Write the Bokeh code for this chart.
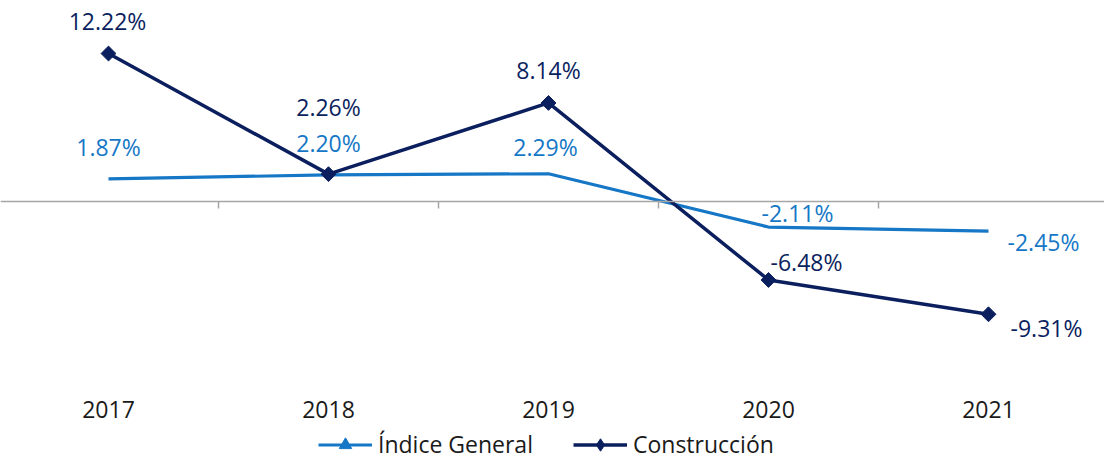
from bokeh.plotting import figure
from bokeh.models import ColumnDataSource, LinearAxis, FixedTicker, Range1d, Legend, LegendItem
from bokeh.embed import file_html
from bokeh.resources import INLINE
from bokeh.core.properties import value

years = ["2017", "2018", "2019", "2020", "2021"]
indice_general = [1.87, 2.20, 2.29, -2.11, -2.45]
construccion = [12.22, 2.26, 8.14, -6.48, -9.31]

FONT = "Open Sans"
BLUE = "#1577C6"
NAVY = "#0B1F5E"
GRAY = "#A6A6A6"
TXT = "#1a1a1a"
FS = "23px"

x = list(range(len(years)))
src = ColumnDataSource(dict(
    x=x,
    gen=indice_general,
    con=construccion,
    gen_lbl=[f"{v:.2f}%" for v in indice_general],
    con_lbl=[f"{v:.2f}%" for v in construccion],
    # label offsets (screen px) - styling only
    gdx=[0, 0, -3, 29, 55], gdy=[-32, -32, -27, -14, 11],
    cdx=[-1, 0, 0, 38, 58], cdy=[-33, -67, -33, -18, 14],
))

p = figure(width=1104, height=461, output_backend="svg", toolbar_location=None,
           x_range=Range1d(-0.4909, 4.5273), y_range=Range1d(-21.47, 16.60),
           min_border=0, outline_line_color=None,
           x_axis_location=None, y_axis_location=None)
p.grid.visible = False
p.background_fill_color = "white"
p.border_fill_color = "white"

# zero axis with boundary ticks
bounds = [i + 0.5 for i in range(len(years) - 1)]
zero_axis = LinearAxis(fixed_location=0, ticker=FixedTicker(ticks=bounds),
                       major_label_overrides={b: "" for b in bounds},
                       major_label_text_font_size="0px",
                       axis_line_color=GRAY, axis_line_width=1.5,
                       major_tick_in=0, major_tick_out=7,
                       major_tick_line_color=GRAY, major_tick_line_width=1.5,
                       minor_tick_line_color=None)
p.add_layout(zero_axis, "below")

year_axis = LinearAxis(fixed_location=-15.85, ticker=FixedTicker(ticks=x),
                       major_label_overrides={i: y for i, y in enumerate(years)},
                       axis_line_color=None, major_tick_line_color=None,
                       minor_tick_line_color=None,
                       major_label_text_font=FONT, major_label_text_font_size=FS,
                       major_label_text_color=TXT, major_label_standoff=2)
p.add_layout(year_axis, "below")

gline = p.line("x", "gen", source=src, line_color=BLUE, line_width=3.2)
gmark = p.scatter("x", "gen", source=src, marker="triangle", size=0,
                  fill_color=BLUE, line_color=BLUE)
cline = p.line("x", "con", source=src, line_color=NAVY, line_width=3.5)
cmark = p.scatter("x", "con", source=src, marker="square", angle=0.785398, size=10.5,
                  fill_color=NAVY, line_color=NAVY)
cmark_leg = p.scatter("x", "con", source=src, marker="diamond", size=0,
                      fill_color=NAVY, line_color=NAVY)

p.text("x", "gen", text="gen_lbl", source=src, x_offset="gdx", y_offset="gdy",
       text_align="center", text_baseline="middle", text_font=value(FONT),
       text_font_size=FS, text_color=BLUE)
p.text("x", "con", text="con_lbl", source=src, x_offset="cdx", y_offset="cdy",
       text_align="center", text_baseline="middle", text_font=value(FONT),
       text_font_size=FS, text_color=NAVY)

legend = Legend(items=[LegendItem(label="Índice General", renderers=[gline, gmark]),
                       LegendItem(label="Construcción", renderers=[cline, cmark_leg])],
                orientation="horizontal", location=(318, 1),
                glyph_width=54, glyph_height=31, label_standoff=6, spacing=40,
                padding=0, margin=0, background_fill_alpha=0, border_line_color=None,
                label_text_font=FONT, label_text_font_size=FS, label_text_color=TXT)
p.add_layout(legend)

open("out.html", "w").write(file_html(p, INLINE))
